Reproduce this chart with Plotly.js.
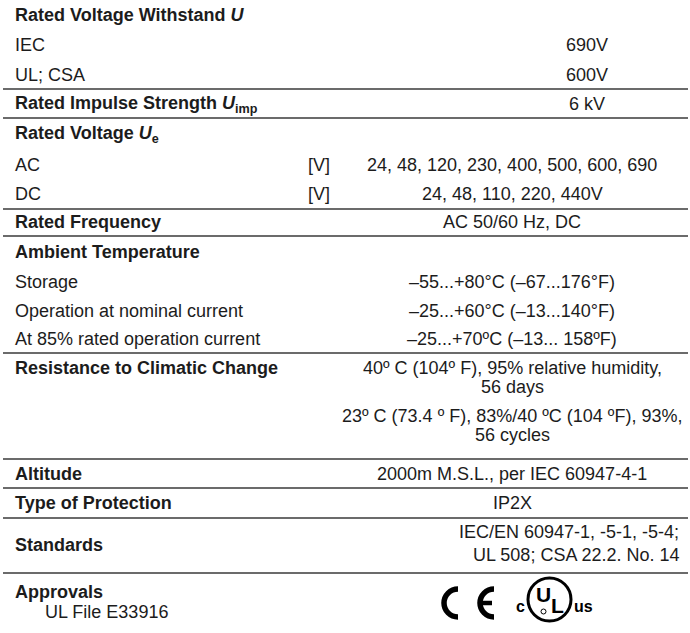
<!DOCTYPE html>
<html>
<head>
<meta charset="utf-8">
<script src="https://cdn.plot.ly/plotly-3.0.1.min.js"></script>
<style>html,body{margin:0;padding:0;background:#fff;}</style>
</head>
<body>
<div id="chart" style="width:690px;height:633px;"></div>
<script>
// ---- table content ----
const labels = [
  "<b>Rated Voltage Withstand <i>U</i></b>",
  "IEC",
  "UL; CSA",
  "<b>Rated Impulse Strength <i>U</i><sub>imp</sub></b>",
  "<b>Rated Voltage <i>U</i><sub>e</sub></b>",
  "AC",
  "DC",
  "<b>Rated Frequency</b>",
  "<b>Ambient Temperature</b>",
  "Storage",
  "Operation at nominal current",
  "At 85% rated operation current",
  "<b>Resistance to Climatic Change</b>",
  "",
  "<b>Altitude</b>",
  "<b>Type of Protection</b>",
  "<b>Standards</b>",
  "<b>Approvals</b>"
];
const units = ["", "", "", "", "", "[V]", "[V]", "", "", "", "", "", "", "", "", "", "", ""];
const values = [
  "",
  "690V",
  "600V",
  "6 kV",
  "",
  "24, 48, 120, 230, 400, 500, 600, 690",
  "24, 48, 110, 220, 440V",
  "AC 50/60 Hz, DC",
  "",
  "–55...+80°C (–67...176°F)",
  "–25...+60°C (–13...140°F)",
  "–25...+70ºC (–13... 158ºF)",
  "40º C (104º F), 95% relative humidity,|56 days",
  "23º C (73.4 º F), 83%/40 ºC (104 ºF), 93%,|56 cycles",
  "2000m M.S.L., per IEC 60947-4-1",
  "IP2X",
  "IEC/EN 60947-1, -5-1, -5-4;|UL 508; CSA 22.2. No. 14",
  ""
];
const approvalNote = "UL File E33916";

// ---- layout (positions / styles) ----
const labelY = [15, 45, 75, 104, 134, 165, 194, 222, 252, 282, 311, 339, 368, 416, 474, 503, 545, 592];
const valueY = [15, 45, 75, 104, 134, 165, 194, 222, 252, 282, 311, 339, 368, 416, 474, 503, 532, 592];
const valueMode = ["c","r1","r1","r1","c","c","c","c","c","c","c","c","c","c","c","c","right","c"];
const ruleY = [89, 118, 209, 236, 353, 459, 488, 518, 573];
const FONT = "Liberation Sans, Arial, sans-serif";
const FS = 18;
const TXT = "#1c1c1c";
const LINE_GAP = 19;

const annotations = [];
const shapes = [];

labels.forEach((t, i) => {
  if (!t) return;
  annotations.push({x: 13, y: labelY[i], xref: "x", yref: "y", text: t, showarrow: false,
    xanchor: "left", yanchor: "middle", font: {family: FONT, size: FS, color: TXT}});
});
units.forEach((u, i) => {
  if (!u) return;
  annotations.push({x: 319, y: labelY[i], xref: "x", yref: "y", text: u, showarrow: false,
    xanchor: "center", yanchor: "middle", font: {family: FONT, size: FS, color: TXT}});
});
values.forEach((v, i) => {
  if (!v) return;
  v.split("|").forEach((line, k) => {
    let x = 512, xa = "center";
    if (valueMode[i] === "r1") { x = 587; }
    if (valueMode[i] === "right") { x = 681; xa = "right"; }
    annotations.push({x: x, y: valueY[i] + k * (valueMode[i] === "right" ? 23 : LINE_GAP), xref: "x", yref: "y",
      text: line, showarrow: false, xanchor: xa, yanchor: "middle",
      font: {family: FONT, size: FS, color: TXT}});
  });
});
annotations.push({x: 43, y: 612, xref: "x", yref: "y", text: approvalNote, showarrow: false,
  xanchor: "left", yanchor: "middle", font: {family: FONT, size: FS, color: TXT}});

ruleY.forEach(y => {
  shapes.push({type: "line", xref: "x", yref: "y", x0: 3, x1: 688, y0: y, y1: y,
    line: {color: "#3a3a3a", width: 1.6}});
});

// ---- CE mark ----
function arcPath(cx, cy, r) {
  const k = 0.5523 * r;
  return `M ${cx} ${cy - r} C ${cx - k} ${cy - r} ${cx - r} ${cy - k} ${cx - r} ${cy} ` +
         `C ${cx - r} ${cy + k} ${cx - k} ${cy + r} ${cx} ${cy + r}`;
}
shapes.push({type: "path", xref: "x", yref: "y", path: arcPath(458, 603, 14), line: {color: "#000", width: 5.5}});
shapes.push({type: "path", xref: "x", yref: "y", path: arcPath(494, 603, 14), line: {color: "#000", width: 5.5}});
shapes.push({type: "line", xref: "x", yref: "y", x0: 481, x1: 492, y0: 603, y1: 603, line: {color: "#000", width: 4.5}});

// ---- UL mark ----
shapes.push({type: "circle", xref: "x", yref: "y", x0: 528, x1: 571, y0: 578, y1: 621, line: {color: "#000", width: 3}});
shapes.push({type: "circle", xref: "x", yref: "y", x0: 541, x1: 546, y0: 609, y1: 614, line: {color: "#000", width: 1}});
const markFont = {family: "Liberation Sans Narrow, Liberation Sans, sans-serif", color: "#000"};
annotations.push({x: 543.5, y: 594, xref: "x", yref: "y", text: "<b>U</b>", showarrow: false, xanchor: "center", yanchor: "middle", font: Object.assign({size: 21}, markFont)});
annotations.push({x: 557, y: 605, xref: "x", yref: "y", text: "<b>L</b>", showarrow: false, xanchor: "center", yanchor: "middle", font: Object.assign({size: 21}, markFont)});
annotations.push({x: 520, y: 606, xref: "x", yref: "y", text: "<b>c</b>", showarrow: false, xanchor: "center", yanchor: "middle", font: Object.assign({size: 16}, markFont)});
annotations.push({x: 583, y: 606, xref: "x", yref: "y", text: "<b>us</b>", showarrow: false, xanchor: "center", yanchor: "middle", font: Object.assign({size: 16}, markFont)});

const layout = {
  width: 690, height: 633,
  margin: {l: 0, r: 0, t: 0, b: 0, pad: 0},
  paper_bgcolor: "#ffffff", plot_bgcolor: "#ffffff",
  showlegend: false,
  xaxis: {range: [0, 690], visible: false, fixedrange: true},
  yaxis: {range: [633, 0], visible: false, fixedrange: true},
  annotations: annotations,
  shapes: shapes
};
Plotly.newPlot("chart", [{x: [], y: [], type: "scatter", hoverinfo: "skip"}], layout, {staticPlot: true, displayModeBar: false});
</script>
</body>
</html>
